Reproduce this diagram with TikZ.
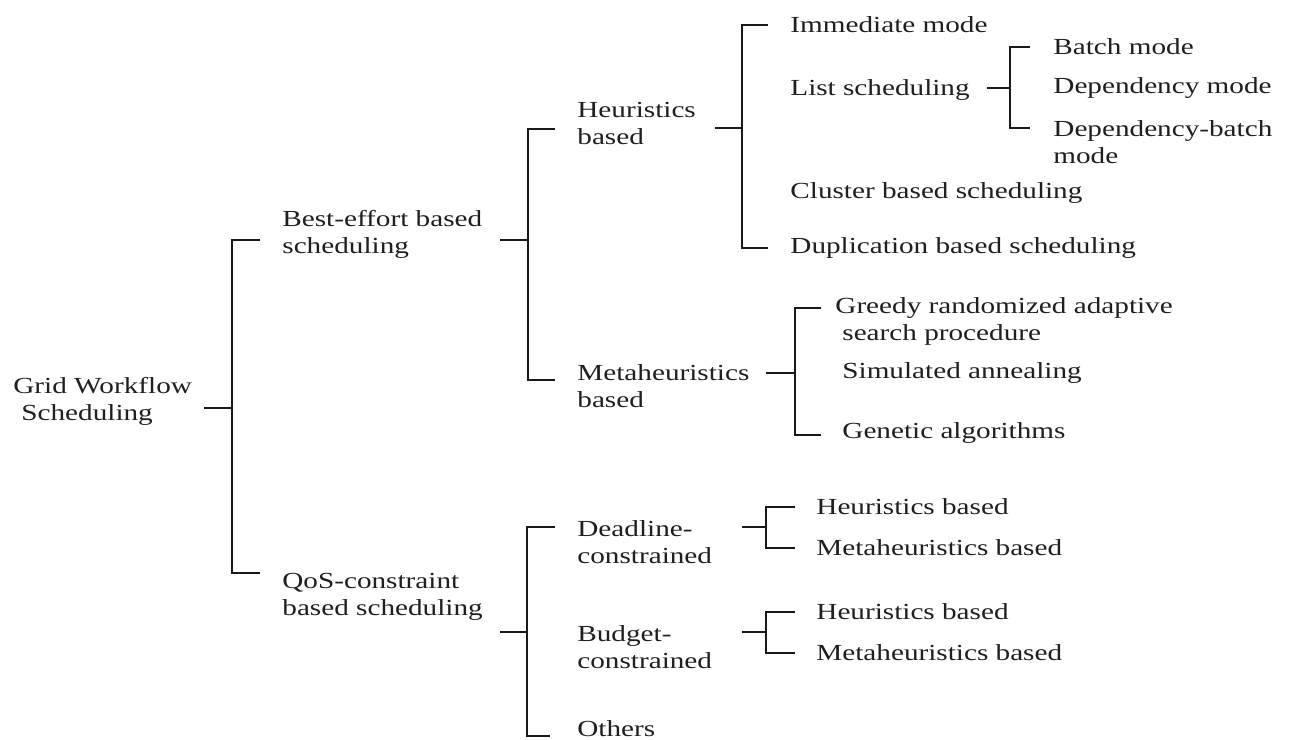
\documentclass[tikz,border=0pt]{standalone}
\usepackage{fontspec}
\setmainfont{Liberation Serif}[FakeStretch=1.27]
\tikzset{
  cat/.style={anchor=west, inner sep=0pt, align=left, text=black!88, font=\fontsize{11.5pt}{13.5pt}\selectfont},
  branch/.style={line width=0.9pt, draw=black!90},
  stub/.style={line width=0.9pt, draw=black!90}
}
\begin{document}
\begin{tikzpicture}[x=0.5pt, y=-0.5pt]
  \useasboundingbox[fill=white] (0,0) rectangle (1295,739);

  % first and second level
  \node[cat] (root) at (13,401) {Grid Workflow\\\hspace{4pt}Scheduling};
  \node[cat] (best) at (282,234) {Best-effort based\\scheduling};
  \node[cat] (qos) at (282,597) {QoS-constraint\\based scheduling};

  % best-effort branch
  \node[cat] (heur) at (577,123) {Heuristics\\based};
  \node[cat] (meta) at (577,386) {Metaheuristics\\based};
  \node[cat] (imm) at (790,25) {Immediate mode};
  \node[cat] (list) at (790,90) {List scheduling};
  \node[cat] (clus) at (790,193) {Cluster based scheduling};
  \node[cat] (dupl) at (790,248) {Duplication based scheduling};
  \node[cat] (batch) at (1053,47) {Batch mode};
  \node[cat] (depm) at (1053,88) {Dependency mode};
  \node[cat] (depb) at (1053,142) {Dependency-batch\\mode};
  \node[cat] (greedy) at (835,321) {Greedy randomized adaptive\\\hspace{3.5pt}search procedure};
  \node[cat] (sim) at (842,373) {Simulated annealing};
  \node[cat] (gen) at (842,433) {Genetic algorithms};

  % qos branch
  \node[cat] (dead) at (577,542) {Deadline-\\constrained};
  \node[cat] (budg) at (577,647) {Budget-\\constrained};
  \node[cat] (oth) at (577,729) {Others};
  \node[cat] (dh) at (816,507) {Heuristics based};
  \node[cat] (dm) at (816,548) {Metaheuristics based};
  \node[cat] (bh) at (816,612) {Heuristics based};
  \node[cat] (bm) at (816,653) {Metaheuristics based};

  % junctions on the bars
  \coordinate (jroot) at (232,408);
  \coordinate (jbest) at (528,240);
  \coordinate (jheur) at (742,128);
  \coordinate (jlist) at (1010,88);
  \coordinate (jmeta) at (795,373);
  \coordinate (jqos) at (527,632);
  \coordinate (jdead) at (766,527);
  \coordinate (jbudg) at (766,632);

  % stubs
  \foreach \j/\len in {jroot/14pt, jbest/14pt, jheur/13.5pt, jlist/11.5pt, jmeta/14.5pt, jqos/13.5pt, jdead/12pt, jbudg/12pt}
    \draw[stub] ([xshift=-\len]\j) -- (\j);

  % bars with their ticks
  \draw[branch] ([xshift=-11pt,yshift=-3pt]best.west) -| (jroot) |- ([xshift=-11pt,yshift=12pt]qos.west);
  \draw[branch] ([xshift=-11pt,yshift=-3pt]heur.west) -| (jbest) |- ([xshift=-11pt,yshift=3pt]meta.west);
  \draw[branch] ([xshift=-11pt]imm.west) -| (jheur) |- ([xshift=-11pt]dupl.west);
  \draw[branch] ([xshift=-11.5pt]batch.west) -| (jlist) |- ([xshift=-11.5pt,yshift=7pt]depb.west);
  \draw[branch] ([xshift=-7pt,yshift=6.5pt]greedy.west) -| (jmeta) |- ([xshift=-10.5pt,yshift=-1pt]gen.west);
  \draw[branch] ([xshift=-11pt,yshift=7.5pt]dead.west) -| (jqos) |- ([xshift=-13.5pt,yshift=-3.5pt]oth.west);
  \draw[branch] ([xshift=-10.5pt]dh.west) -| (jdead) |- ([xshift=-10.5pt]dm.west);
  \draw[branch] ([xshift=-10.5pt]bh.west) -| (jbudg) |- ([xshift=-10.5pt]bm.west);
\end{tikzpicture}
\end{document}
